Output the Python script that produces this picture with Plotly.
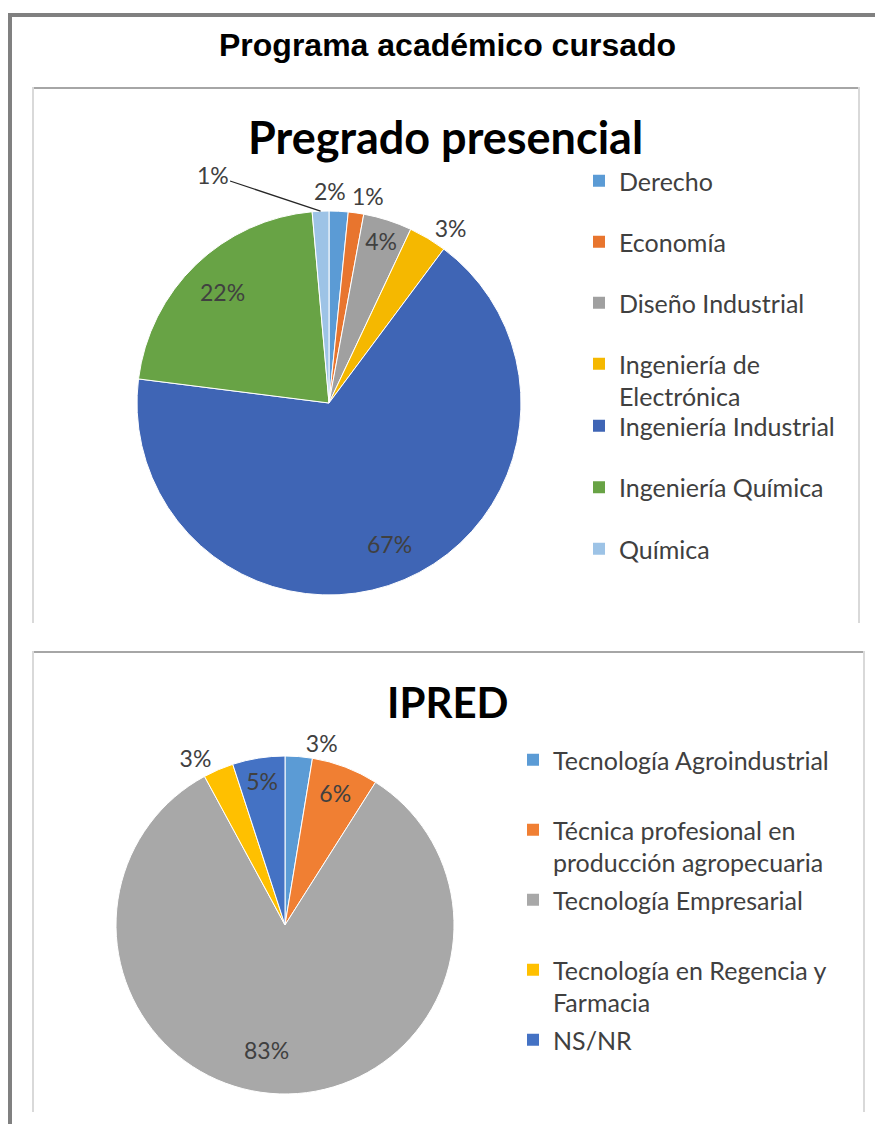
import math
import plotly.graph_objects as go

W, H = 875, 1124

main_title = "Programa académico cursado"

pre_title = "Pregrado presencial"
pre_labels = ["Derecho", "Economía", "Diseño Industrial", "Ingeniería de Electrónica",
              "Ingeniería Industrial", "Ingeniería Química", "Química"]
pre_legend = ["Derecho", "Economía", "Diseño Industrial", "Ingeniería de<br>Electrónica",
              "Ingeniería Industrial", "Ingeniería Química", "Química"]
pre_values = [1.6, 1.3, 4.1, 3.2, 66.8, 21.6, 1.4]
pre_colors = ["#5B9BD5", "#E8752E", "#A0A0A0", "#F5B800", "#3F65B5", "#68A345", "#9DC3E6"]
# how each percentage label is placed
pre_labelmode = ["edge", "edge", "inside", "outside", "deep", "deep", "leader"]

ip_title = "IPRED"
ip_labels = ["Tecnología Agroindustrial", "Técnica profesional en producción agropecuaria",
             "Tecnología Empresarial", "Tecnología en Regencia y Farmacia", "NS/NR"]
ip_legend = ["Tecnología Agroindustrial", "Técnica profesional en<br>producción agropecuaria",
             "Tecnología Empresarial", "Tecnología en Regencia y<br>Farmacia", "NS/NR"]
ip_values = [2.6, 6.4, 83.1, 2.9, 5.0]
ip_colors = ["#5B9BD5", "#F07F33", "#A8A8A8", "#FFC000", "#4472C4"]
ip_labelmode = ["outside", "inside", "deep", "outside", "inside"]


def px(x):
    return x / W


def py(y):
    return 1 - y / H


FONT = "Lato, Noto Sans, sans-serif"
TXT = "#404040"
PCT_SIZE = 23

# pie boxes (pixels)
P1 = dict(x0=137, x1=521, y0=211, y1=595)
P2 = dict(x0=116, x1=454, y0=756, y1=1094)

# label styling offsets for labels not placed by plotly itself
EDGE_SHIFT = {0: (-9, 20), 1: (12, 17)}      # (xshift, yshift) px for "edge" labels of pie 1
LEADER_OFFSET = (-108, -36)                   # text offset from slice edge for "leader" label
DEEP_FACTOR = {1: 0.8, 2: 0.74}               # radial position (fraction of radius) per pie
DEEP_SHIFT = {1: (0, 0), 2: (-14, 0)}


def slice_point(box, values, idx, rfac):
    tot = sum(values)
    frac = (sum(values[:idx]) + values[idx] / 2) / tot
    th = 2 * math.pi * frac
    cx = (box["x0"] + box["x1"]) / 2
    cy = (box["y0"] + box["y1"]) / 2
    r = (box["x1"] - box["x0"]) / 2
    return cx + rfac * r * math.sin(th), cy - rfac * r * math.cos(th)


def pct(values, idx):
    return f"{round(values[idx] / sum(values) * 100)}%"


fig = go.Figure()


def add_pie(labels, values, colors, modes, box):
    textpos = [m if m in ("inside", "outside") else "none" for m in modes]
    fig.add_trace(go.Pie(
        labels=labels, values=values, sort=False, direction="clockwise", rotation=0,
        marker=dict(colors=colors, line=dict(color="white", width=1)),
        textposition=textpos, texttemplate="%{percent:.0%}",
        textfont=dict(family=FONT, size=PCT_SIZE, color=TXT),
        insidetextorientation="horizontal",
        domain=dict(x=[px(box["x0"]), px(box["x1"])], y=[py(box["y1"]), py(box["y0"])]),
        showlegend=False, hoverinfo="label+percent",
    ))


add_pie(pre_labels, pre_values, pre_colors, pre_labelmode, P1)
add_pie(ip_labels, ip_values, ip_colors, ip_labelmode, P2)

# legend entries (one group each, so spacing can be controlled)
for i, (lab, col) in enumerate(zip(pre_legend, pre_colors)):
    fig.add_trace(go.Scatter(x=[None], y=[None], mode="markers", name=lab,
                             marker=dict(symbol="square", size=12, color=col),
                             legendgroup=f"a{i}", legend="legend" if i < 4 else "legend3",
                             hoverinfo="skip"))
for i, (lab, col) in enumerate(zip(ip_legend, ip_colors)):
    name = lab if "<br>" in lab else lab + "<br> "
    fig.add_trace(go.Scatter(x=[None], y=[None], mode="markers", name=name,
                             marker=dict(symbol="square", size=12, color=col),
                             legendgroup=f"b{i}", legend="legend2", hoverinfo="skip"))

shapes = []
# outer frame
shapes.append(dict(type="rect", xref="paper", yref="paper", x0=px(8), x1=px(875), y0=py(17), y1=py(13),
                   fillcolor="#808080", line=dict(width=0)))
shapes.append(dict(type="rect", xref="paper", yref="paper", x0=px(8), x1=px(12), y0=py(1124), y1=py(13),
                   fillcolor="#808080", line=dict(width=0)))
# inner boxes
for (top, bottom, right) in [(87, 623, 860), (651, 1112, 865)]:
    shapes.append(dict(type="rect", xref="paper", yref="paper", x0=px(32), x1=px(right), y0=py(top + 2), y1=py(top),
                       fillcolor="#A6A6A6", line=dict(width=0)))
    shapes.append(dict(type="rect", xref="paper", yref="paper", x0=px(32), x1=px(34), y0=py(bottom), y1=py(top),
                       fillcolor="#D9D9D9", line=dict(width=0)))
    shapes.append(dict(type="rect", xref="paper", yref="paper", x0=px(right - 2), x1=px(right), y0=py(bottom), y1=py(top),
                       fillcolor="#D9D9D9", line=dict(width=0)))

annotations = [
    dict(text=f"<b>{main_title}</b>", x=px(447), y=py(45), xref="paper", yref="paper",
         showarrow=False, xanchor="center", yanchor="middle",
         font=dict(family="Liberation Sans, Arial, sans-serif", size=32, color="black")),
    dict(text=f"<b>{pre_title}</b>", x=px(446), y=py(137), xref="paper", yref="paper",
         showarrow=False, xanchor="center", yanchor="middle",
         font=dict(family=FONT, size=45, color="black")),
    dict(text=f"<b>{ip_title}</b>", x=px(448), y=py(702), xref="paper", yref="paper",
         showarrow=False, xanchor="center", yanchor="middle",
         font=dict(family=FONT, size=42, color="black")),
]

pct_font = dict(family=FONT, size=PCT_SIZE, color=TXT)
for pie_no, (values, modes, box) in enumerate([(pre_values, pre_labelmode, P1),
                                               (ip_values, ip_labelmode, P2)], start=1):
    for i, m in enumerate(modes):
        base = dict(text=pct(values, i), xref="paper", yref="paper",
                    xanchor="center", yanchor="middle", font=pct_font)
        if m == "deep":
            x, y = slice_point(box, values, i, DEEP_FACTOR[pie_no])
            xs, ys = DEEP_SHIFT[pie_no]
            annotations.append(dict(base, x=px(x), y=py(y), showarrow=False, xshift=xs, yshift=ys))
        elif m == "edge":
            x, y = slice_point(box, values, i, 1.0)
            xs, ys = EDGE_SHIFT[i]
            annotations.append(dict(base, x=px(x), y=py(y), showarrow=False, xshift=xs, yshift=ys))
        elif m == "leader":
            x, y = slice_point(box, values, i, 1.0)
            annotations.append(dict(base, x=px(x), y=py(y),
                                    showarrow=True, arrowhead=0, arrowwidth=1.2, arrowcolor="#262626",
                                    standoff=0, ax=LEADER_OFFSET[0], ay=LEADER_OFFSET[1]))

leg_common = dict(xanchor="left", yanchor="top", valign="top",
                  font=dict(family=FONT, size=25, color=TXT),
                  bgcolor="rgba(0,0,0,0)", itemclick=False, itemdoubleclick=False)

fig.update_layout(
    width=W, height=H, margin=dict(l=0, r=0, t=0, b=0),
    paper_bgcolor="white", plot_bgcolor="white",
    xaxis=dict(visible=False), yaxis=dict(visible=False),
    shapes=shapes, annotations=annotations,
    legend=dict(x=px(579), y=py(158), tracegroupgap=25.5, **leg_common),
    legend3=dict(x=px(579), y=py(403), tracegroupgap=26, **leg_common),
    legend2=dict(x=px(513), y=py(737), tracegroupgap=2, **leg_common),
)

fig.write_html("out.html", config={"displayModeBar": False},
               post_script="document.body.style.margin='0px';")
